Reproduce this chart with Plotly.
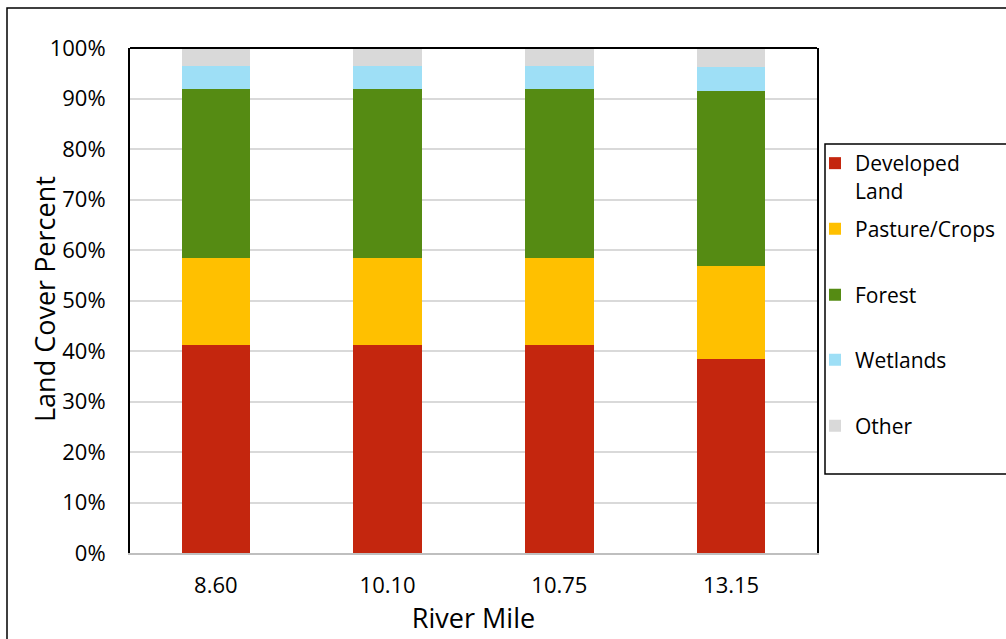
import plotly.graph_objects as go

# Land cover composition by river mile (percent of drainage area)
river_miles = ["8.60", "10.10", "10.75", "13.15"]
developed = [41.2, 41.2, 41.2, 38.5]
pasture = [17.3, 17.3, 17.3, 18.3]
forest = [33.4, 33.4, 33.4, 34.7]
wetlands = [4.5, 4.5, 4.5, 4.8]
other = [3.6, 3.6, 3.6, 3.7]

series = [
    ("Developed<br>Land", developed, "#C4260E"),
    ("Pasture/Crops", pasture, "#FFC000"),
    ("Forest", forest, "#558B13"),
    ("Wetlands", wetlands, "#9EDFF6"),
    ("Other", other, "#D9D9D9"),
]

axis_font = "Open Sans, Noto Sans, sans-serif"
legend_font = "Open Sans, Noto Sans, sans-serif"

# plot area in pixels
W, H = 1006, 639
L, R, T, B = 130, 189, 48, 86
pw, ph = W - L - R, H - T - B


def px_x(x):
    return (x - L) / pw


def px_y(y):
    return 1 - (y - T) / ph


# vertical centre of each legend entry's first text line
legend_rows = [162, 229, 295, 360, 426]

fig = go.Figure()
legends = {}
for i, (name, vals, color) in enumerate(series):
    key = "legend" if i == 0 else f"legend{i + 1}"
    fig.add_trace(go.Bar(
        x=river_miles, y=vals, name=name,
        marker=dict(color=color, line=dict(width=0)),
        legend=key,
        hovertemplate="%{x}: %{y:.1f}%<extra></extra>",
    ))
    lines = name.count("<br>") + 1
    centre = legend_rows[i] + (lines - 1) * 15
    legends[key] = dict(
        x=px_x(815), xanchor="left",
        y=px_y(centre), yanchor="middle",
        bgcolor="rgba(0,0,0,0)", borderwidth=0,
        font=dict(size=21, family=legend_font, color="#000000"),
        valign="top", itemwidth=30,
    )

fig.update_layout(
    width=W, height=H,
    barmode="stack", bargap=0.6,
    paper_bgcolor="white", plot_bgcolor="white",
    margin=dict(l=L, r=R, t=T, b=B, autoexpand=False),
    font=dict(family=axis_font, color="#000000", size=22),
    showlegend=True,
    xaxis=dict(
        title=dict(text="River Mile", font=dict(size=27), standoff=6),
        showline=True, linecolor="#BFBFBF", linewidth=2,
        showgrid=False, ticks="", ticklabelstandoff=12,
        tickfont=dict(size=22),
    ),
    yaxis=dict(
        range=[0, 100], dtick=10, ticksuffix="%",
        showgrid=True, gridcolor="#D9D9D9", gridwidth=1.5,
        showline=True, linecolor="#000000", linewidth=2, mirror=True,
        ticks="", ticklabelstandoff=18, zeroline=False,
        tickfont=dict(size=22),
    ),
    annotations=[
        dict(text="Land Cover Percent", textangle=-90,
             xref="paper", yref="paper", x=px_x(44), y=px_y(299),
             xanchor="center", yanchor="middle", showarrow=False,
             font=dict(size=27, family=axis_font, color="#000000")),
    ],
    shapes=[
        # top edge of the plot frame
        dict(type="line", xref="paper", yref="paper", x0=0, x1=1, y0=1, y1=1,
             line=dict(color="#000000", width=2)),
        # legend box
        dict(type="rect", xref="paper", yref="paper",
             x0=px_x(825), x1=px_x(1012), y0=px_y(474), y1=px_y(144),
             line=dict(color="#000000", width=1.5)),
        # outer chart border
        dict(type="rect", xref="paper", yref="paper",
             x0=px_x(7), x1=1.4, y0=-0.3, y1=px_y(8),
             line=dict(color="#000000", width=1.5), layer="below"),
    ],
    **legends,
)

fig.write_html("out.html")
